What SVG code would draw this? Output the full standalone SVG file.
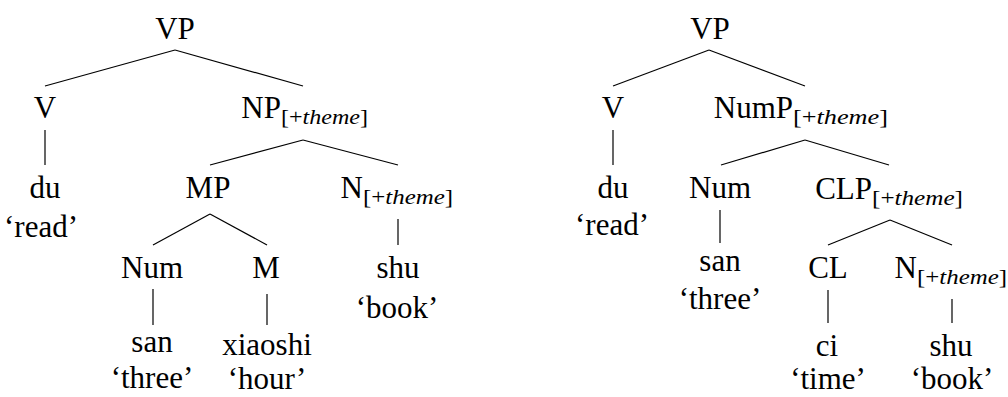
<svg xmlns="http://www.w3.org/2000/svg" width="1008" height="397" viewBox="0 0 1008 397">
<style>
text{font-family:"Liberation Serif","Times New Roman",serif;font-size:31px;fill:#000}
.m{text-anchor:middle}
.e{text-anchor:end}
.s{font-size:22px;text-anchor:start}
.i{font-style:italic}
line{stroke:#000;stroke-width:1.2}
</style>
<rect width="1008" height="397" fill="#fff"/>
<g id="connectors">
<line x1="175" y1="50" x2="45" y2="86"/>
<line x1="175" y1="50" x2="303" y2="86"/>
<line x1="45" y1="130" x2="45" y2="165"/>
<line x1="303" y1="140" x2="210" y2="165"/>
<line x1="303" y1="140" x2="398" y2="165"/>
<line x1="210" y1="214" x2="153" y2="245"/>
<line x1="210" y1="214" x2="267" y2="245"/>
<line x1="398" y1="219" x2="398" y2="245"/>
<line x1="153" y1="289" x2="153" y2="325"/>
<line x1="267" y1="294" x2="267" y2="325"/>
<line x1="709" y1="50" x2="613" y2="86"/>
<line x1="709" y1="50" x2="805" y2="86"/>
<line x1="613" y1="130" x2="613" y2="165"/>
<line x1="805" y1="140" x2="721" y2="165"/>
<line x1="805" y1="140" x2="889" y2="165"/>
<line x1="720" y1="210" x2="720" y2="243"/>
<line x1="890" y1="220" x2="828" y2="245"/>
<line x1="890" y1="220" x2="952" y2="245"/>
<line x1="828" y1="290" x2="828" y2="323"/>
<line x1="952" y1="299" x2="952" y2="323"/>
</g>
<g id="L-VP"><text class="m" x="175" y="39">VP</text></g>
<g id="L-V"><text class="m" x="45" y="118">V</text></g>
<g id="L-du"><text class="m" x="45" y="198">du</text><text class="m" x="41" y="237">‘read’</text></g>
<g id="L-NP"><text class="e" x="281" y="118">NP</text><text class="s" x="281" y="124" textLength="87" lengthAdjust="spacingAndGlyphs">[+<tspan class="i">theme</tspan>]</text></g>
<g id="L-MP"><text class="m" x="208" y="198">MP</text></g>
<g id="L-N"><text class="e" x="363" y="198">N</text><text class="s" x="363" y="204" textLength="90" lengthAdjust="spacingAndGlyphs">[+<tspan class="i">theme</tspan>]</text></g>
<g id="L-shu"><text class="m" x="398" y="278">shu</text><text class="m" x="397" y="318">‘book’</text></g>
<g id="L-Num"><text class="m" x="152" y="278">Num</text></g>
<g id="L-M"><text class="m" x="266" y="278">M</text></g>
<g id="L-san"><text class="m" x="152" y="352">san</text><text class="m" x="152" y="388">‘three’</text></g>
<g id="L-xiaoshi"><text class="m" x="267" y="355">xiaoshi</text><text class="m" x="267" y="389">‘hour’</text></g>
<g id="R-VP"><text class="m" x="710" y="39">VP</text></g>
<g id="R-V"><text class="m" x="613" y="118">V</text></g>
<g id="R-du"><text class="m" x="613" y="198">du</text><text class="m" x="612" y="235">‘read’</text></g>
<g id="R-NumP"><text class="e" x="793" y="118">NumP</text><text class="s" x="793" y="124" textLength="95" lengthAdjust="spacingAndGlyphs">[+<tspan class="i">theme</tspan>]</text></g>
<g id="R-Num"><text class="m" x="720" y="198">Num</text></g>
<g id="R-san"><text class="m" x="720" y="271">san</text><text class="m" x="720" y="309">‘three’</text></g>
<g id="R-CLP"><text class="e" x="872" y="199">CLP</text><text class="s" x="872" y="205" textLength="91" lengthAdjust="spacingAndGlyphs">[+<tspan class="i">theme</tspan>]</text></g>
<g id="R-CL"><text class="m" x="828" y="278">CL</text></g>
<g id="R-N"><text class="e" x="917" y="278">N</text><text class="s" x="917" y="284" textLength="90" lengthAdjust="spacingAndGlyphs">[+<tspan class="i">theme</tspan>]</text></g>
<g id="R-ci"><text class="m" x="827" y="356">ci</text><text class="m" x="828" y="389">‘time’</text></g>
<g id="R-shu"><text class="m" x="951" y="356">shu</text><text class="m" x="952" y="389">‘book’</text></g>
</svg>
